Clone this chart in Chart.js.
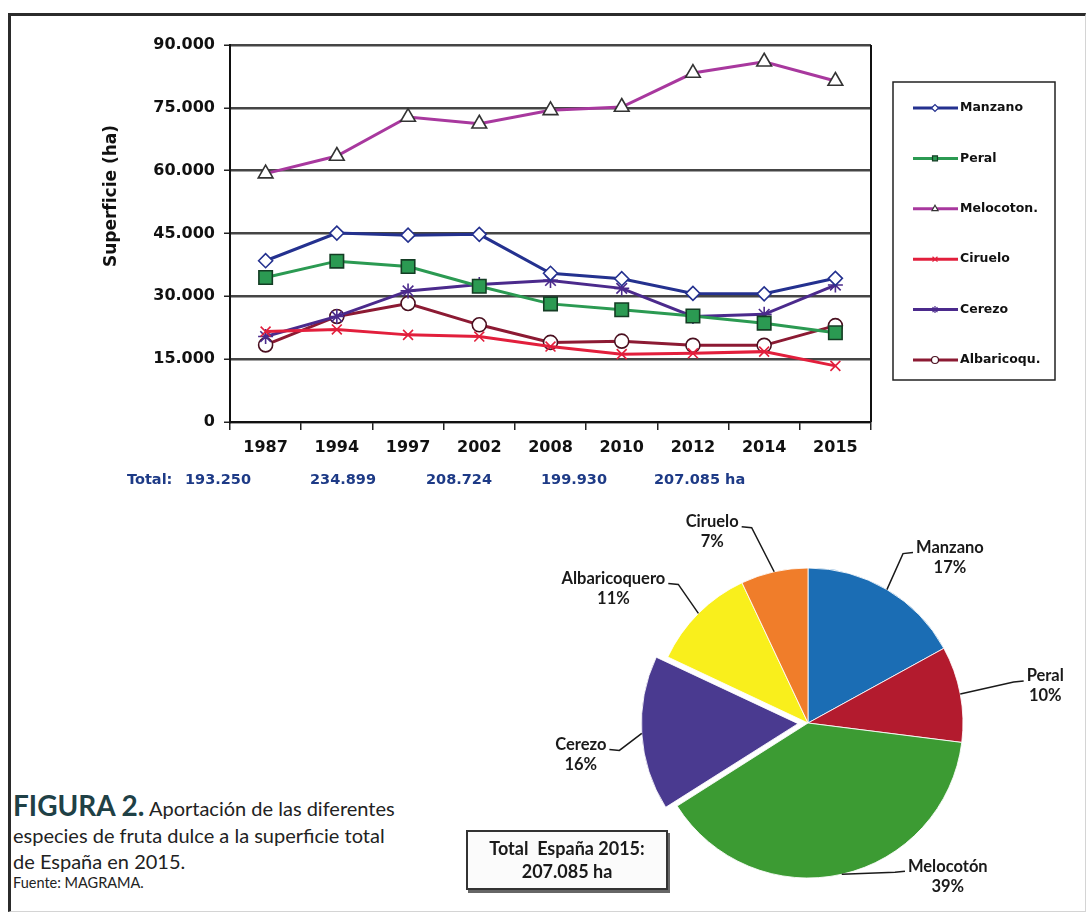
<!DOCTYPE html>
<html lang="es">
<head>
<meta charset="utf-8">
<title>Superficie de fruta dulce en España</title>
<script src="https://cdn.jsdelivr.net/npm/chart.js@4.4.0/dist/chart.umd.min.js"></script>
<style>
  html, body { margin: 0; padding: 0; background: #fff; }
  body { width: 1090px; height: 917px; position: relative; overflow: hidden; }
  .marco {
    position: absolute; left: 8px; top: 13px; width: 1078px; height: 899px;
    border-top: 3px solid #2b2b2b; border-left: 3px solid #2b2b2b;
    border-right: 1px solid #d4d4d4; border-bottom: 1px solid #d4d4d4;
    box-sizing: border-box;
  }
  #lineas { position: absolute; left: 0; top: 0; }
  #tarta { position: absolute; left: 540px; top: 500px; }
  .pie-figura {
    position: absolute; left: 13px; top: 792px; width: 440px;
    font-family: Lato, "Open Sans", sans-serif; font-size: 20px; line-height: 26.5px; color: #222;
  }
  .pie-figura b { font-size: 28px; color: #1f4146; }
  .pie-figura .fuente { display: block; font-size: 14.5px; line-height: 18px; margin-top: -1px; }
  .caja-total {
    position: absolute; left: 466px; top: 830px; width: 202px; height: 60px;
    border: 2px solid #333; box-sizing: border-box; background: #fbfbfb;
    box-shadow: 2px 3px 0 #666;
    font-family: Lato, "Open Sans", sans-serif; font-weight: bold; font-size: 18px;
    color: #1a1a1a; text-align: center; line-height: 23px; padding-top: 5px; white-space: pre;
  }
</style>
</head>
<body>
<div class="marco"></div>
<canvas id="lineas" width="1090" height="500"></canvas>
<canvas id="tarta" width="545" height="410"></canvas>
<div class="pie-figura"><b>FIGURA 2.</b> Aportación de las diferentes<br>especies de fruta dulce a la superficie total<br>de España en 2015.<span class="fuente">Fuente: MAGRAMA.</span></div>
<div class="caja-total" id="cajaTotal"></div>
<script>
// Superficie por especie (ha)
const anios = ['1987', '1994', '1997', '2002', '2008', '2010', '2012', '2014', '2015'];
const manzano = [38500, 45100, 44600, 44800, 35500, 34200, 30700, 30600, 34300];
const peral = [34500, 38400, 37100, 32400, 28200, 26800, 25300, 23600, 21300];
const melocoton = [59300, 63500, 72800, 71200, 74400, 75200, 83300, 86000, 81400];
const ciruelo = [21600, 22100, 20800, 20400, 18000, 16200, 16400, 16800, 13400];
const cerezo = [20400, 25200, 31300, 32800, 33800, 31900, 25200, 25700, 32700];
const albaricoquero = [18400, 25200, 28300, 23200, 19000, 19300, 18300, 18300, 23000];

// totales que figuran bajo el eje
const totales = [193250, 234899, 208724, 199930, 207085];

// reparto de 2015 (%)
const especiesTarta = ['Manzano', 'Peral', 'Melocotón', 'Cerezo', 'Albaricoquero', 'Ciruelo'];
const porcentajes2015 = [17, 10, 39, 16, 11, 7];
const total2015 = 207085;

const fmt = v => String(v).replace(/\B(?=(\d{3})+(?!\d))/g, '.');
const fuenteEje = '"DejaVu Sans", Arial, sans-serif';

document.getElementById('cajaTotal').textContent = 'Total  España 2015:\n' + fmt(total2015) + ' ha';

// posiciones de los textos (solo maquetación)
const xTotales = [185, 310, 426, 541, 654];
const posEtiquetas = [
  { dx: 63, dy: -42 },  // Manzano
  { dx: 85, dy: -18 },  // Peral
  { dx: 106, dy: -8 },  // Melocotón
  { dx: -61, dy: 11 },  // Cerezo
  { dx: -85, dy: -35 }, // Albaricoquero
  { dx: -62, dy: -50 }  // Ciruelo
];

function serie(label, data, color, estilo, relleno, borde, radio) {
  return {
    label, data,
    borderColor: color,
    borderWidth: 3,
    pointStyle: estilo,
    pointRadius: radio,
    pointBackgroundColor: relleno,
    pointBorderColor: borde,
    pointBorderWidth: 1.6,
    tension: 0
  };
}

const decoracion = {
  id: 'decoracion',
  afterDraw(chart) {
    const { ctx, chartArea: a } = chart;
    ctx.save();

    // cierre derecho del área
    ctx.strokeStyle = '#111';
    ctx.lineWidth = 2;
    ctx.beginPath();
    ctx.moveTo(a.right, a.top);
    ctx.lineTo(a.right, a.bottom);
    ctx.stroke();

    // título del eje Y
    ctx.save();
    ctx.translate(112, 196);
    ctx.rotate(-Math.PI / 2);
    ctx.font = 'bold 17px ' + fuenteEje;
    ctx.fillStyle = '#111';
    ctx.textAlign = 'center';
    ctx.textBaseline = 'middle';
    ctx.fillText('Superficie (ha)', 0, 0);
    ctx.restore();

    // leyenda
    ctx.lineWidth = 1.5;
    ctx.strokeStyle = '#222';
    ctx.strokeRect(893, 82, 162, 298);
    ctx.font = 'bold 12.5px ' + fuenteEje;
    ctx.textBaseline = 'middle';
    ctx.textAlign = 'left';
    chart.data.datasets.forEach((ds, i) => {
      const y = 108 + i * 50.4;
      ctx.strokeStyle = ds.borderColor;
      ctx.lineWidth = 3;
      ctx.beginPath();
      ctx.moveTo(913, y);
      ctx.lineTo(958, y);
      ctx.stroke();
      ctx.fillStyle = ds.pointBackgroundColor;
      ctx.strokeStyle = ds.pointBorderColor;
      ctx.lineWidth = 1.2;
      Chart.helpers.drawPoint(ctx, { pointStyle: ds.pointStyle, radius: 3.5, borderWidth: 1.2 }, 935, y);
      ctx.fillStyle = '#111';
      ctx.fillText(ds.label, 960, y);
    });

    // fila de totales
    ctx.font = 'bold 14.5px ' + fuenteEje;
    ctx.fillStyle = '#1d3a86';
    ctx.fillText('Total:', 127, 480);
    totales.forEach((t, i) => {
      ctx.fillText(fmt(t) + (i === totales.length - 1 ? ' ha' : ''), xTotales[i], 480);
    });
    ctx.restore();
  }
};

const dsManzano = serie('Manzano', manzano, '#24318f', 'rectRot', '#fff', '#24318f', 7);
const dsPeral = serie('Peral', peral, '#2b9a52', 'rect', '#2b9a52', '#143d24', 9.5);
const dsMelocoton = serie('Melocoton.', melocoton, '#a8389e', 'triangle', '#fff', '#333', 8.5);
const dsCiruelo = serie('Ciruelo', ciruelo, '#e21f3c', 'crossRot', '#e21f3c', '#e21f3c', 7);
const dsCerezo = serie('Cerezo', cerezo, '#4b2a8c', 'star', '#4b2a8c', '#4b2a8c', 7.5);
const dsAlbaricoquero = serie('Albaricoqu.', albaricoquero, '#8c1a33', 'circle', '#fff', '#4a1020', 7);

new Chart(document.getElementById('lineas'), {
  type: 'line',
  data: {
    labels: anios,
    datasets: [dsManzano, dsPeral, dsMelocoton, dsCiruelo, dsCerezo, dsAlbaricoquero]
  },
  options: {
    responsive: false,
    animation: false,
    layout: { padding: { left: 0, top: 45, right: 219, bottom: 23 } },
    plugins: { legend: { display: false }, tooltip: { enabled: false } },
    scales: {
      x: {
        offset: true,
        afterFit: s => { s.height = 55; },
        grid: { offset: true, drawOnChartArea: false, drawTicks: true, tickLength: 8, color: '#222', lineWidth: 1.5 },
        border: { display: true, color: '#111', width: 2 },
        ticks: { color: '#111', padding: 8, font: { family: fuenteEje, size: 16, weight: 'bold' } }
      },
      y: {
        min: 0,
        max: 90000,
        afterFit: s => { s.width = 230; },
        grid: { color: '#454545', lineWidth: 2.5, tickLength: 6, tickColor: '#222', tickWidth: 1.5 },
        border: { display: true, color: '#111', width: 2 },
        ticks: {
          stepSize: 15000, padding: 9, color: '#111',
          font: { family: fuenteEje, size: 16, weight: 'bold' },
          callback: v => fmt(v)
        }
      }
    }
  },
  plugins: [decoracion]
});

const etiquetasTarta = {
  id: 'etiquetasTarta',
  afterDatasetsDraw(chart) {
    const ctx = chart.ctx;
    const arcs = chart.getDatasetMeta(0).data;
    ctx.save();
    ctx.font = 'bold 16.5px Lato, "Open Sans", sans-serif';
    ctx.fillStyle = '#1a1a1a';
    ctx.strokeStyle = '#1a1a1a';
    ctx.lineWidth = 1.5;
    ctx.textAlign = 'center';
    ctx.textBaseline = 'middle';
    arcs.forEach((arc, i) => {
      const p = arc.getProps(['x', 'y', 'startAngle', 'endAngle', 'outerRadius', 'circumference'], true);
      const mid = (p.startAngle + p.endAngle) / 2;
      const off = arc.options.offset || 0;
      const fix = 1 - Math.sin(Math.min(Math.PI, p.circumference));
      const r = p.outerRadius + off / 4 * (1 + fix);
      const ex = p.x + Math.cos(mid) * r;
      const ey = p.y + Math.sin(mid) * r;
      const cx = ex + posEtiquetas[i].dx;
      const cy = ey + posEtiquetas[i].dy;
      const nombre = especiesTarta[i];
      const w = ctx.measureText(nombre).width;
      ctx.fillText(nombre, cx, cy);
      ctx.fillText(porcentajes2015[i] + '%', cx, cy + 20);
      // línea guía
      const derecha = posEtiquetas[i].dx > 0;
      const x0 = derecha ? cx - w / 2 - 3 : cx + w / 2 + 3;
      const x1 = derecha ? x0 - 10 : x0 + 10;
      const y0 = cy + 5;
      ctx.beginPath();
      ctx.moveTo(x0, y0);
      ctx.lineTo(x1, y0 + 1);
      ctx.lineTo(ex, ey);
      ctx.stroke();
    });
    ctx.restore();
  }
};

new Chart(document.getElementById('tarta'), {
  type: 'pie',
  data: {
    labels: especiesTarta,
    datasets: [{
      data: porcentajes2015,
      backgroundColor: ['#1b6db4', '#b31b2e', '#3c9b33', '#4a3a90', '#f9ef1c', '#f07d2a'],
      borderColor: 'rgba(255,255,255,0.85)',
      borderWidth: 1,
      offset: [0, 0, 0, 40, 0, 0]
    }]
  },
  options: {
    responsive: false,
    animation: false,
    radius: 155,
    layout: { padding: { top: 36, right: 9, left: 0, bottom: 0 } },
    plugins: { legend: { display: false }, tooltip: { enabled: false } }
  },
  plugins: [etiquetasTarta]
});
</script>
</body>
</html>
